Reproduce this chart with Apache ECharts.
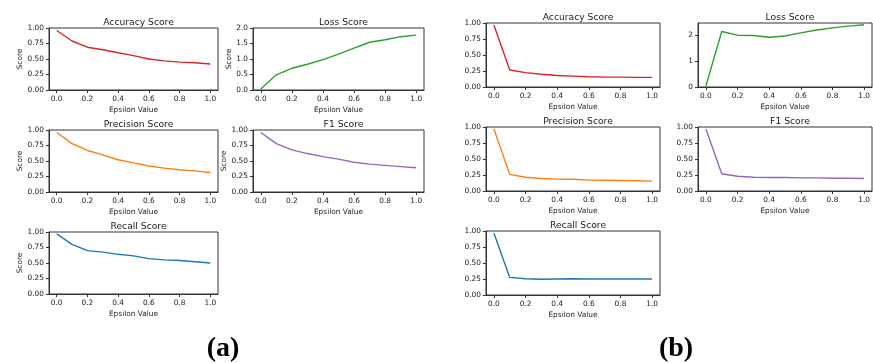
<!DOCTYPE html>
<html>
<head>
<meta charset="utf-8">
<script src="https://cdn.jsdelivr.net/npm/echarts@6/dist/echarts.min.js"></script>
<style>
html,body{margin:0;padding:0;background:#fff;}
#chart{width:873px;height:363px;}
</style>
</head>
<body>
<div id="chart"></div>
<script>
// ---- data ----
const epsilon = [0.0, 0.1, 0.2, 0.3, 0.4, 0.5, 0.6, 0.7, 0.8, 0.9, 1.0];
const xTicks = [0.0, 0.2, 0.4, 0.6, 0.8, 1.0];

// panel (a)
const accA  = [0.96, 0.79, 0.69, 0.65, 0.60, 0.555, 0.50, 0.47, 0.45, 0.44, 0.42];
const lossA = [0.03, 0.49, 0.70, 0.83, 0.98, 1.16, 1.35, 1.54, 1.62, 1.72, 1.77];
const precA = [0.96, 0.78, 0.67, 0.60, 0.52, 0.47, 0.42, 0.385, 0.36, 0.34, 0.315];
const f1A   = [0.96, 0.78, 0.68, 0.62, 0.57, 0.53, 0.48, 0.45, 0.43, 0.41, 0.39];
const recA  = [0.97, 0.80, 0.70, 0.675, 0.64, 0.615, 0.57, 0.55, 0.54, 0.52, 0.50];

// panel (b)
const accB  = [0.97, 0.265, 0.225, 0.20, 0.18, 0.17, 0.16, 0.155, 0.155, 0.15, 0.15];
const lossB = [0.04, 2.14, 2.00, 1.99, 1.92, 1.97, 2.09, 2.20, 2.28, 2.35, 2.40];
const precB = [0.97, 0.26, 0.215, 0.195, 0.185, 0.183, 0.17, 0.168, 0.165, 0.16, 0.155];
const f1B   = [0.97, 0.27, 0.23, 0.215, 0.21, 0.21, 0.205, 0.205, 0.20, 0.20, 0.195];
const recB  = [0.97, 0.275, 0.255, 0.245, 0.25, 0.255, 0.25, 0.25, 0.25, 0.25, 0.25];

const scoreTicks = [0, 0.25, 0.5, 0.75, 1.0];
const lossTicksA = [0, 0.5, 1.0, 1.5, 2.0];
const lossTicksB = [0, 1, 2];

const titles = ['Accuracy Score', 'Loss Score', 'Precision Score', 'F1 Score', 'Recall Score'];
const colors = ['#d62728', '#2ca02c', '#ff7f0e', '#9467bd', '#1f77b4'];

// ---- layout ----
const panels = [
  // panel a
  {data: accA,  title: titles[0], color: colors[0], g: {left: 49,  top: 28,  width: 169, height: 62}, ymax: 1, yt: scoreTicks, dec: 2, ylab: true, ng: 25},
  {data: lossA, title: titles[1], color: colors[1], g: {left: 253, top: 28,  width: 171, height: 62}, ymax: 2, yt: lossTicksA, dec: 1, ylab: true, ng: 19},
  {data: precA, title: titles[2], color: colors[2], g: {left: 49,  top: 130, width: 169, height: 62}, ymax: 1, yt: scoreTicks, dec: 2, ylab: true, ng: 25},
  {data: f1A,   title: titles[3], color: colors[3], g: {left: 253, top: 130, width: 171, height: 62}, ymax: 1, yt: scoreTicks, dec: 2, ylab: true, ng: 25},
  {data: recA,  title: titles[4], color: colors[4], g: {left: 49,  top: 232, width: 169, height: 62}, ymax: 1, yt: scoreTicks, dec: 2, ylab: true, ng: 25},
  // panel b
  {data: accB,  title: titles[0], color: colors[0], g: {left: 486, top: 23,  width: 174, height: 64}, ymax: 1, yt: scoreTicks, dec: 2, ylab: false},
  {data: lossB, title: titles[1], color: colors[1], g: {left: 698, top: 23,  width: 174, height: 64}, ymax: 2.47, yt: lossTicksB, dec: 0, ylab: false},
  {data: precB, title: titles[2], color: colors[2], g: {left: 486, top: 127, width: 174, height: 64}, ymax: 1, yt: scoreTicks, dec: 2, ylab: false},
  {data: f1B,   title: titles[3], color: colors[3], g: {left: 698, top: 127, width: 174, height: 64}, ymax: 1, yt: scoreTicks, dec: 2, ylab: false},
  {data: recB,  title: titles[4], color: colors[4], g: {left: 486, top: 231, width: 174, height: 64}, ymax: 1, yt: scoreTicks, dec: 2, ylab: false}
];

const FONT = 'DejaVu Sans';
const TXT = '#1a1a1a';
const AX = '#333333';

const grid = [], xAxis = [], yAxis = [], series = [], title = [];
panels.forEach((p, i) => {
  grid.push(Object.assign({show: true, borderColor: AX, borderWidth: 1, containLabel: false}, p.g));
  title.push({
    text: p.title,
    left: p.g.left + p.g.width / 2,
    top: p.g.top - 15,
    textAlign: 'center',
    textStyle: {fontFamily: FONT, fontSize: 9.2, fontWeight: 'normal', color: TXT}
  });
  xAxis.push({
    type: 'value', gridIndex: i, min: -0.05, max: 1.05,
    name: 'Epsilon Value', nameLocation: 'middle', nameGap: 17,
    nameTextStyle: {fontFamily: FONT, fontSize: 7.4, color: TXT},
    axisLine: {show: true, onZero: false, lineStyle: {color: AX, width: 1}},
    axisTick: {show: true, length: 3, lineStyle: {color: AX}, customValues: xTicks},
    axisLabel: {show: true, margin: 6, fontFamily: FONT, fontSize: 7.4, color: TXT,
      customValues: xTicks, formatter: v => Number(v).toFixed(1)},
    splitLine: {show: false}
  });
  yAxis.push({
    type: 'value', gridIndex: i, min: 0, max: p.ymax,
    name: p.ylab ? 'Score' : '', nameLocation: 'middle', nameGap: p.ng || 20, nameRotate: 90,
    nameTextStyle: {fontFamily: FONT, fontSize: 7.4, color: TXT},
    axisLine: {show: true, onZero: false, lineStyle: {color: AX, width: 1}},
    axisTick: {show: true, length: 3, lineStyle: {color: AX}, customValues: p.yt},
    axisLabel: {show: true, margin: 5, fontFamily: FONT, fontSize: 7.4, color: TXT,
      customValues: p.yt, formatter: v => Number(v).toFixed(p.dec)},
    splitLine: {show: false}
  });
  series.push({
    type: 'line', xAxisIndex: i, yAxisIndex: i,
    data: epsilon.map((x, k) => [x, p.data[k]]),
    showSymbol: false, symbol: 'none', smooth: false,
    lineStyle: {color: p.color, width: 1.4},
    itemStyle: {color: p.color},
    animation: false
  });
});

// panel labels
title.push({text: '(a)', left: 218, top: 330, textAlign: 'center',
  textStyle: {fontFamily: 'Liberation Serif', fontSize: 28, fontWeight: 'bold', color: '#000'}});
title.push({text: '(b)', left: 671, top: 330, textAlign: 'center',
  textStyle: {fontFamily: 'Liberation Serif', fontSize: 28, fontWeight: 'bold', color: '#000'}});

const chart = echarts.init(document.getElementById('chart'), null, {renderer: 'canvas'});
chart.setOption({
  backgroundColor: '#fff',
  animation: false,
  title, grid, xAxis, yAxis, series
});
</script>
</body>
</html>
